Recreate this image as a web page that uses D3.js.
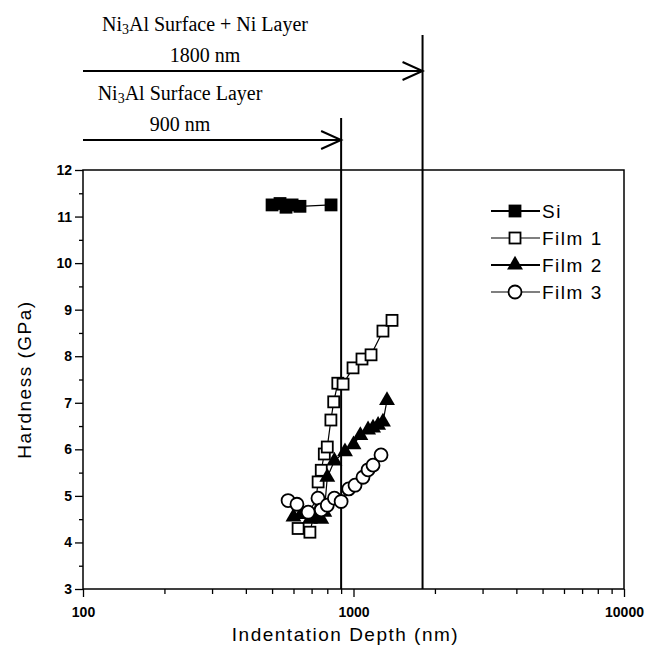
<!DOCTYPE html>
<html>
<head>
<meta charset="utf-8">
<script src="https://cdn.jsdelivr.net/npm/d3@7"></script>
<style>
  body { margin: 0; background: #fff; }
  svg { display: block; }
</style>
</head>
<body>
<svg id="chart" width="662" height="652"></svg>
<script>
// data (depth in nm, hardness in GPa)
const siDepth = [500, 535, 563, 593, 634, 826];
const siHard = [11.25, 11.28, 11.2, 11.25, 11.22, 11.25];

const film1Depth = [624, 690, 715, 740, 760, 780, 800, 825, 845, 875, 915, 996, 1075, 1161, 1285, 1388];
const film1Hard = [4.3, 4.22, 4.6, 5.3, 5.55, 5.9, 6.05, 6.63, 7.02, 7.42, 7.4, 7.75, 7.94, 8.03, 8.54, 8.77];

const film2Depth = [600, 640, 690, 720, 760, 780, 800, 850, 930, 1000, 1060, 1132, 1181, 1233, 1285, 1330];
const film2Hard = [4.55, 4.6, 4.5, 4.55, 4.5, 4.65, 5.4, 5.75, 5.95, 6.1, 6.3, 6.42, 6.46, 6.52, 6.59, 7.05];

const film3Depth = [573, 618, 680, 739, 760, 800, 850, 900, 960, 1013, 1084, 1132, 1181, 1264];
const film3Hard = [4.9, 4.82, 4.65, 4.95, 4.7, 4.8, 4.95, 4.88, 5.15, 5.23, 5.4, 5.56, 5.66, 5.88];

const xTickLabels = [100, 1000, 10000];
const yTickLabels = [3, 4, 5, 6, 7, 8, 9, 10, 11, 12];
const seriesNames = ["Si", "Film 1", "Film 2", "Film 3"];
const markerLines = [900, 1800];

const svg = d3.select("#chart");
const margin = { left: 83, right: 624, top: 170, bottom: 589 };

const x = d3.scaleLog().domain([100, 10000]).range([margin.left, margin.right]);
const y = d3.scaleLinear().domain([3, 12]).range([margin.bottom, margin.top]);

const sans = "Liberation Sans, Arial, sans-serif";
const serif = "Liberation Serif, Times New Roman, serif";

// frame
svg.append("rect")
    .attr("x", margin.left).attr("y", margin.top)
    .attr("width", margin.right - margin.left)
    .attr("height", margin.bottom - margin.top)
    .attr("fill", "none").attr("stroke", "#000").attr("stroke-width", 1.5);

// x axis: major + minor ticks
const xMinor = [];
for (let dec = 100; dec < 10000; dec *= 10) {
    for (let k = 2; k <= 9; k++) xMinor.push(dec * k);
}
const xAxis = svg.append("g").attr("transform", `translate(0,${margin.bottom})`);
xAxis.call(d3.axisBottom(x).tickValues(xMinor).tickSize(5).tickFormat(""));
xAxis.append("g").call(d3.axisBottom(x).tickValues(xTickLabels).tickSize(8).tickFormat(d3.format("d")));
xAxis.selectAll(".domain").remove();
xAxis.selectAll("line").attr("stroke", "#000").attr("stroke-width", 1.3);
xAxis.selectAll("text")
    .attr("font-family", sans)
    .attr("font-size", 14).attr("font-weight", "bold")
    .attr("fill", "#000").attr("dy", "1.2em");

// y axis: major + minor ticks
const yMinor = d3.range(3.5, 12, 1);
const yAxis = svg.append("g").attr("transform", `translate(${margin.left},0)`);
yAxis.call(d3.axisLeft(y).tickValues(yMinor).tickSize(4).tickFormat(""));
yAxis.append("g").call(d3.axisLeft(y).tickValues(yTickLabels).tickSize(8).tickFormat(d3.format("d")));
yAxis.selectAll(".domain").remove();
yAxis.selectAll("line").attr("stroke", "#000").attr("stroke-width", 1.3);
yAxis.selectAll("text")
    .attr("font-family", sans)
    .attr("font-size", 14).attr("font-weight", "bold")
    .attr("fill", "#000").attr("x", -11);

// axis titles
svg.append("text")
    .attr("x", (margin.left + margin.right) / 2 - 8).attr("y", 641)
    .attr("text-anchor", "middle")
    .attr("font-family", sans)
    .attr("font-size", 19).attr("letter-spacing", 1.5)
    .text("Indentation Depth (nm)");

svg.append("text")
    .attr("transform", `translate(31,${(margin.top + margin.bottom) / 2}) rotate(-90)`)
    .attr("text-anchor", "middle")
    .attr("font-family", sans)
    .attr("font-size", 19).attr("letter-spacing", 1.5)
    .text("Hardness (GPa)");

// vertical layer lines + arrows
const lineTops = [118, 35];
const arrowYs = [140, 71];
markerLines.forEach((d, i) => {
    svg.append("line")
        .attr("x1", x(d)).attr("x2", x(d))
        .attr("y1", lineTops[i]).attr("y2", margin.bottom)
        .attr("stroke", "#000").attr("stroke-width", 2);
    const ay = arrowYs[i];
    svg.append("line")
        .attr("x1", margin.left).attr("x2", x(d))
        .attr("y1", ay).attr("y2", ay)
        .attr("stroke", "#000").attr("stroke-width", 2);
    svg.append("path")
        .attr("d", `M${x(d) - 20},${ay - 9} L${x(d)},${ay} L${x(d) - 20},${ay + 9}`)
        .attr("fill", "none").attr("stroke", "#000").attr("stroke-width", 2);
});

// annotation text
const notes = [
    { cx: 205, y1: 31, y2: 62, line2: "1800 nm", pre: "Ni", post: "Al Surface + Ni Layer" },
    { cx: 180, y1: 100, y2: 131, line2: "900 nm", pre: "Ni", post: "Al Surface Layer" }
];
notes.forEach(n => {
    const t = svg.append("text")
        .attr("x", n.cx).attr("y", n.y1)
        .attr("text-anchor", "middle")
        .attr("font-family", serif)
        .attr("font-size", 20);
    t.append("tspan").text(n.pre);
    t.append("tspan").attr("font-size", 14).attr("dy", 3).text("3");
    t.append("tspan").attr("dy", -3).text(n.post);
    svg.append("text")
        .attr("x", n.cx).attr("y", n.y2)
        .attr("text-anchor", "middle")
        .attr("font-family", serif)
        .attr("font-size", 20)
        .text(n.line2);
});

// series
const series = [
    { name: seriesNames[0], depth: siDepth, hard: siHard, shape: "square", fill: "#000", lw: 2 },
    { name: seriesNames[1], depth: film1Depth, hard: film1Hard, shape: "square", fill: "#fff", lw: 1.2 },
    { name: seriesNames[2], depth: film2Depth, hard: film2Hard, shape: "triangle", fill: "#000", lw: 2 },
    { name: seriesNames[3], depth: film3Depth, hard: film3Hard, shape: "circle", fill: "#fff", lw: 1.2 }
];

function drawMarker(g, s, cx, cy) {
    if (s.shape === "square") {
        g.append("rect")
            .attr("x", cx - 5.5).attr("y", cy - 5.5)
            .attr("width", 11).attr("height", 11)
            .attr("fill", s.fill).attr("stroke", "#000").attr("stroke-width", 1.8);
    } else if (s.shape === "triangle") {
        g.append("path")
            .attr("d", d3.symbol().type(d3.symbolTriangle).size(110)())
            .attr("transform", `translate(${cx},${cy})`)
            .attr("fill", "#000");
    } else {
        g.append("circle")
            .attr("cx", cx).attr("cy", cy).attr("r", 6.5)
            .attr("fill", "#fff").attr("stroke", "#000").attr("stroke-width", 1.8);
    }
}

const line = d3.line().x(d => x(d[0])).y(d => y(d[1]));

series.forEach(s => {
    const pts = s.depth.map((d, i) => [d, s.hard[i]]);
    const g = svg.append("g");
    g.append("path")
        .attr("d", line(pts))
        .attr("fill", "none").attr("stroke", "#000").attr("stroke-width", 1.2);
    pts.forEach(p => drawMarker(g, s, x(p[0]), y(p[1])));
});

// legend
const legY = [211, 238, 265, 292];
series.forEach((s, i) => {
    const g = svg.append("g");
    g.append("line")
        .attr("x1", 491).attr("x2", 540)
        .attr("y1", legY[i]).attr("y2", legY[i])
        .attr("stroke", "#000").attr("stroke-width", s.lw);
    drawMarker(g, s, 515, legY[i]);
    g.append("text")
        .attr("x", 542).attr("y", legY[i] + 7)
        .attr("font-family", sans)
        .attr("font-size", 19).attr("letter-spacing", 1.5)
        .text(s.name);
});
</script>
</body>
</html>
